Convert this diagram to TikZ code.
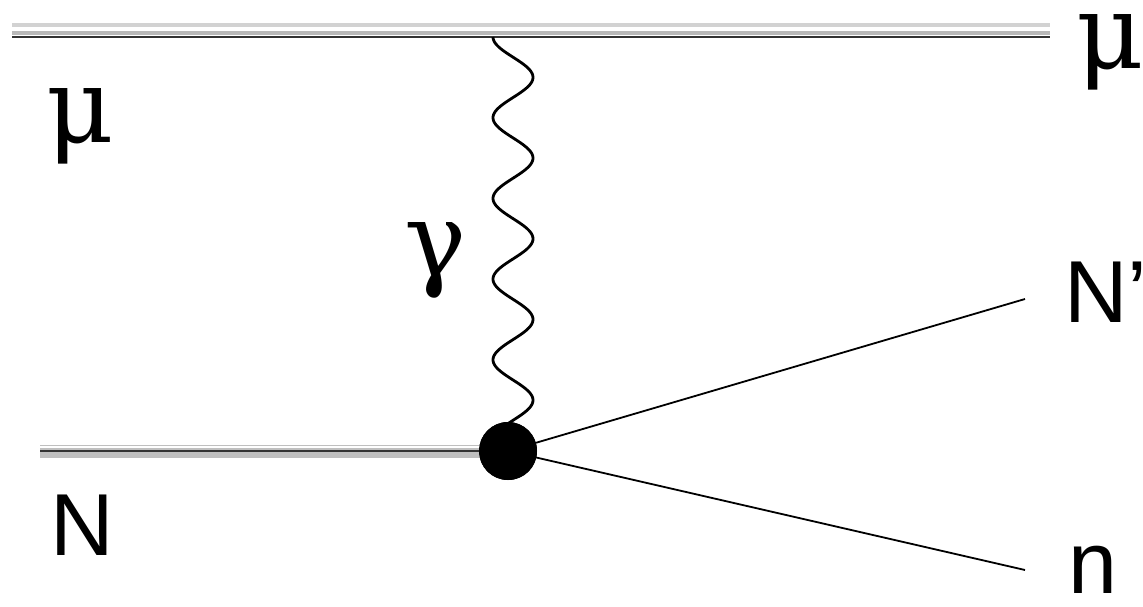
\documentclass[tikz,border=0pt]{standalone}
\usepackage{fontspec}
\setmainfont{Liberation Sans}
\newfontfamily\grkserif{DejaVu Serif}
\begin{document}
\begin{tikzpicture}[x=1pt,y=-1pt]
\tikzset{
  lab/.style={inner sep=0pt, outer sep=0pt, anchor=base west, font=\fontsize{88}{88}\selectfont},
  glab/.style={inner sep=0pt, outer sep=0pt, anchor=base west, font=\grkserif\fontsize{104}{104}\selectfont},
  toplepton/.style={line width=2pt, black!80,
    preaction={draw, gray!55, line width=4pt, transform canvas={yshift=4pt}},
    preaction={draw, gray!35, line width=4pt, transform canvas={yshift=12pt}}},
  nucleon/.style={line width=2pt, black!80,
    preaction={draw, gray!50, line width=13pt},
    preaction={draw, white, line width=1.5pt, transform canvas={yshift=4pt}}},
  outline/.style={line width=1.8pt, black},
  photon/.style={line width=2.8pt, black},
  blobstyle/.style={circle, fill=black, minimum size=58pt, inner sep=0pt}
}
\useasboundingbox (0,0) rectangle (1143,606);
% coordinates
\coordinate (muin) at (12,37);
\coordinate (muout) at (1050,37);
\coordinate (nin) at (40,451);
\coordinate (npout) at (1025,299);
\coordinate (nout) at (1025,570);
% lines
\draw[toplepton] (muin) -- (muout);
\node[blobstyle] (blob) at (508,451) {};
\draw[nucleon] (nin) -- (blob.center);
\draw[outline] (blob.center) -- (npout);
\draw[outline] (blob.center) -- (nout);
% photon
\draw[photon, smooth] plot[domain=37:432, samples=240] ({513-20*cos(4.461*(\x-37))}, \x);
\node[blobstyle] (blobtop) at (blob.center) {};
% labels
\node[glab] (mul) at (46,142) {μ};
\node[glab] (mur) at (1076,68) {μ};
\node[glab] (gam) at (404,276) {γ};
\node[lab] (Nl) at (50,555) {N};
\node[lab] (Np) at (1064,322) {N’};
\node[lab] (nl) at (1068,593) {n};
\end{tikzpicture}
\end{document}
